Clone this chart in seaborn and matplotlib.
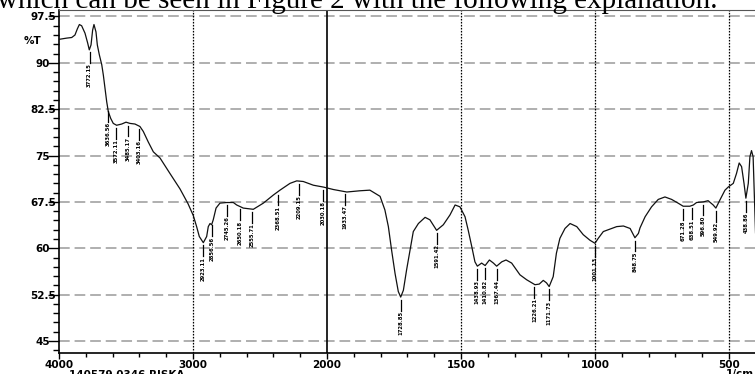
import numpy as np
import pandas as pd
import matplotlib
matplotlib.use("Agg")
import matplotlib.pyplot as plt
from matplotlib.ticker import FixedLocator, MultipleLocator
import seaborn as sns

# ---------------- data ----------------
wavenumber = [4000, 3943, 3905, 3881, 3863, 3848, 3831, 3806, 3786, 3774, 3761, 3749,
              3739, 3724, 3714, 3699, 3681, 3669, 3657, 3644, 3632, 3614, 3595, 3570,
              3532, 3500, 3470, 3433, 3396, 3371, 3334, 3296, 3246, 3172, 3097, 3037,
              2998, 2973, 2953, 2923, 2898, 2886, 2873, 2861, 2849, 2828, 2799, 2749,
              2699, 2674, 2625, 2550, 2475, 2401, 2351, 2276, 2226, 2177, 2102, 2027,
              1976, 1926, 1877, 1840, 1802, 1784, 1771, 1759, 1746, 1734, 1725, 1715,
              1703, 1690, 1678, 1659, 1634, 1616, 1591, 1566, 1541, 1522, 1504, 1485,
              1473, 1460, 1448, 1439, 1423, 1410, 1394, 1379, 1367, 1348, 1332, 1311,
              1280, 1255, 1224, 1208, 1193, 1181, 1171, 1156, 1144, 1131, 1112, 1093,
              1068, 1044, 1019, 1000, 988, 969, 944, 919, 894, 869, 851, 838, 832, 813,
              789, 764, 739, 714, 690, 671, 646, 633, 621, 596, 578, 559, 549, 534, 515,
              503, 484, 472, 462, 453, 444, 437, 428, 422, 416, 410, 404, 401]
transmittance = [93.8, 94.0, 94.1, 94.5, 95.5, 96.2, 96.0, 94.8, 93.2, 92.1, 92.9, 95.3,
                 96.2, 95.0, 92.9, 91.3, 89.7, 88.0, 85.9, 83.7, 82.1, 81.0, 80.2, 79.9,
                 80.1, 80.4, 80.2, 80.1, 79.7, 78.9, 77.2, 75.6, 74.6, 72.1, 69.6, 67.2,
                 65.3, 63.5, 61.9, 60.9, 61.9, 63.5, 64.0, 63.8, 64.6, 66.5, 67.3, 67.4,
                 67.4, 67.0, 66.5, 66.3, 67.3, 68.6, 69.4, 70.5, 70.9, 70.8, 70.2, 69.9,
                 69.5, 69.1, 69.3, 69.4, 68.4, 66.2, 63.5, 59.7, 55.9, 53.0, 52.1, 53.2,
                 56.5, 59.7, 62.7, 64.0, 65.0, 64.6, 62.9, 63.8, 65.4, 67.0, 66.7, 65.1,
                 62.9, 60.3, 57.8, 57.1, 57.6, 57.2, 58.1, 57.6, 57.1, 57.8, 58.1, 57.6,
                 55.7, 54.9, 54.1, 54.2, 54.8, 54.4, 53.8, 55.4, 59.2, 61.6, 63.2, 64.0,
                 63.5, 62.2, 61.3, 60.8, 61.6, 62.7, 63.1, 63.5, 63.6, 63.2, 61.7, 62.4, 63.3, 65.1,
                 66.7, 67.9, 68.3, 67.9, 67.3, 66.8, 66.8, 67.0, 67.4, 67.5, 67.7, 67.0, 66.5, 67.8, 69.4,
                 69.9, 70.5, 72.1, 73.8, 73.2, 70.5, 68.1, 70.5, 74.8, 75.8, 74.8, 66.5, 62.5]

peak_positions = [3772, 3636, 3572, 3485, 3403, 2923, 2856, 2745, 2650, 2556, 2368,
                  2209, 2030, 1933, 1725, 1591, 1439, 1410, 1367, 1226, 1171, 1000,
                  851, 671, 639, 596, 549, 437]
peak_labels = ["3772.15", "3636.56", "3572.11", "3485.17", "3403.16", "2923.11",
               "2856.56", "2745.26", "2650.18", "2555.71", "2368.51", "2209.15",
               "2030.18", "1933.47", "1728.85", "1591.42", "1438.93", "1410.82",
               "1367.44", "1226.21", "1171.73", "1001.13", "848.75", "671.28",
               "638.51", "596.80", "549.92", "438.86"]

y_ticks = [45, 52.5, 60, 67.5, 75, 82.5, 90, 97.5]
y_tick_labels = ["45", "52.5", "60", "67.5", "75", "82.5", "90", "97.5"]
x_ticks = [4000, 3000, 2000, 1500, 1000, 500]
x_tick_labels = ["4000", "3000", "2000", "1500", "1000", "500"]
x_minor = [3800, 3600, 3400, 3200, 2800, 2600, 2400, 2200,
           1900, 1800, 1700, 1600, 1400, 1300, 1200, 1100,
           900, 800, 700, 600, 400]

df = pd.DataFrame({"wn": wavenumber, "T": transmittance})

# ---------------- figure ----------------
W, H = 755, 374
fig = plt.figure(figsize=(W / 100, H / 100), dpi=100)
ax = fig.add_axes([59 / W, 21 / H, (755.8 - 59) / W, (353 - 10) / H])


def fwd(x):
    x = np.asarray(x, dtype=float)
    return np.where(x >= 2000, x, 2 * x - 2000)


def inv(y):
    y = np.asarray(y, dtype=float)
    return np.where(y >= 2000, y, (y + 2000) / 2)


ax.set_xscale("function", functions=(fwd, inv))

sns.lineplot(data=df, x="wn", y="T", ax=ax, color="#111111", lw=0.9,
             estimator=None, sort=False, legend=False, zorder=5)

ax.set_xlim(4000, 400)
ax.set_ylim(43.05, 98.55)

# grid lines
for yt in y_ticks:
    ax.axhline(yt, color="#9a9a9a", lw=1.1, ls=(0, (7, 3.2)), zorder=1)
for xt in [3000, 1500, 1000, 500]:
    ax.axvline(xt, color="black", lw=0.9, ls=(0, (1.3, 1.1)), zorder=2)
ax.axvline(2000, color="black", lw=1.2, zorder=2)

# ticks
ax.xaxis.set_major_locator(FixedLocator(x_ticks))
ax.xaxis.set_minor_locator(FixedLocator(x_minor))
ax.set_xticklabels(x_tick_labels)
ax.yaxis.set_major_locator(FixedLocator(y_ticks))
ax.yaxis.set_minor_locator(MultipleLocator(1.5))
ax.set_yticklabels(y_tick_labels)

tickfont = dict(family="DejaVu Sans", weight="bold", size=7.5)
for lab in ax.get_xticklabels():
    lab.set_fontproperties(matplotlib.font_manager.FontProperties(**tickfont))
for lab in ax.get_yticklabels():
    lab.set_fontproperties(matplotlib.font_manager.FontProperties(**tickfont))
    lab.set_horizontalalignment("center")

ax.tick_params(axis="x", which="major", direction="out", length=4.3, width=1.0, pad=0.6)
ax.tick_params(axis="x", which="minor", direction="out", length=3.0, width=1.0)
ax.tick_params(axis="y", which="major", direction="out", length=7.9, width=1.0, pad=3.6)
ax.tick_params(axis="y", which="minor", direction="out", length=4.3, width=1.0)

for s in ["left", "bottom"]:
    ax.spines[s].set_color("black")
    ax.spines[s].set_linewidth(1.2)
ax.spines["top"].set_color("#555555")
ax.spines["top"].set_linewidth(0.8)
ax.spines["right"].set_color("black")
ax.spines["right"].set_linewidth(1.0)
ax.set_xlabel("")
ax.set_ylabel("")

# peak annotations
wn_asc = df["wn"].values[::-1]
t_asc = df["T"].values[::-1]
for pos, txt in zip(peak_positions, peak_labels):
    tc = np.interp(pos, wn_asc, t_asc)
    y0 = tc - 0.45
    y1 = tc - 2.2
    ax.plot([pos, pos], [y0, y1], color="black", lw=0.9, zorder=6)
    ax.text(pos, y1 - 0.05, txt, rotation=90, ha="center", va="top",
            fontsize=3.8, weight="bold", family="DejaVu Sans", color="black", zorder=6)

# extra texts
fig.text(32.5 / W, 1 - 40.5 / H, "%T", ha="center", va="center",
         family="DejaVu Sans", weight="bold", fontsize=7.5)
fig.text(126.5 / W, 1 - 369.5 / H, "140579 0346 RISKA", ha="center", va="top",
         family="DejaVu Sans", weight="bold", fontsize=7.5)
fig.text(726 / W, 1 - 369.5 / H, "1/cm", ha="left", va="top",
         family="DejaVu Sans", weight="bold", fontsize=7.5)
fig.text(-3 / W, 1 - 8.5 / H, "which can be seen in Figure 2 with the following explanation.",
         ha="left", va="baseline", family="Liberation Serif", fontsize=21)

fig.savefig("out.png", dpi=100)
